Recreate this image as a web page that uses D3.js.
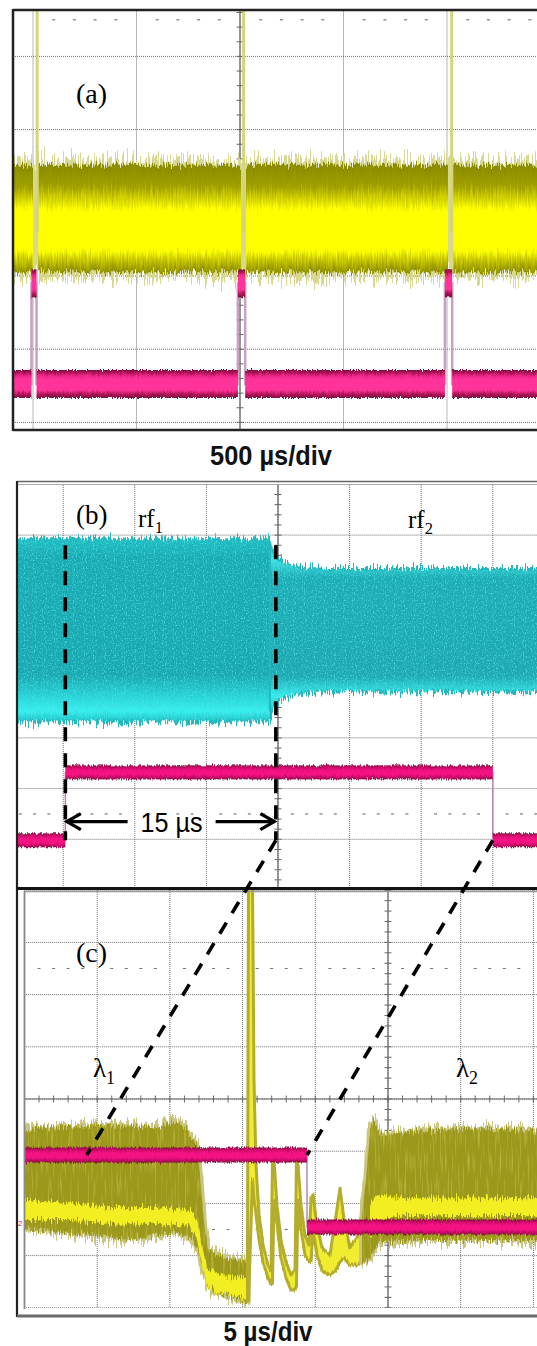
<!DOCTYPE html>
<html>
<head>
<meta charset="utf-8">
<script src="https://cdn.jsdelivr.net/npm/d3@7"></script>
<style>
  body { margin: 0; background: #fff; }
  svg { display: block; }
</style>
</head>
<body>
<div id="chart"></div>
<script>
// all times and levels are in screen divisions (x: 0..10, y: -4..4)

// (a) 500 µs/div
const aYellowSegs = [[2.8, 3.0], [3.05, 5.01], [5.058, 7.01], [7.06, 8.0]];
const aYellowBand = [1.52, 0.05];          // upper, lower
const aYellowSpikes = [3.04, 5.035, 7.045];
const aSpikeSpan = [3.8, 0.6];
const aMagenta = [[2.8, -1.475], [2.985, -0.1], [3.034, -1.475], [4.98, -0.1], [5.05, -1.475],
                  [6.98, -0.1], [7.05, -1.475], [8.0, -1.475]];

// (b) 5 µs/div, rf1 -> rf2
const bCyanL = [[1.35, 2.90, -0.65], [4.874, 2.90, -0.65], [4.90, 2.74, -0.49]];
const bCyanR = [[4.90, 2.74, -0.49], [4.944, 2.54, -0.30], [5.028, 2.47, -0.22], [5.168, 2.39, -0.14],
                [5.377, 2.33, -0.08], [5.726, 2.31, -0.06], [8.62, 2.31, -0.06]];
const bMagenta = [[1.35, -3.02], [2.03, -1.68], [8.0, -3.02], [8.62, -3.02]];
const bMarks = [2.03, 4.97];               // dashed markers
const bMarkSpan = [2.8, -3.02];
const bArrowLevel = -2.65;

// (c) 5 µs/div, lambda1 -> lambda2
const cShift = 4.114;                      // (b) time -> (c) time
const cYellow1 = [[0.0, -0.56, -2.47], [0.488, -0.54, -2.55], [1.039, -0.50, -2.62], [1.451, -0.52, -2.70],
                  [1.864, -0.54, -2.61], [2.070, -0.42, -2.55], [2.208, -0.56, -2.62], [2.318, -0.79, -2.70],
                  [2.373, -0.88, -2.89], [2.414, -1.46, -3.05], [2.469, -2.41, -3.31], [2.524, -2.85, -3.56],
                  [2.593, -2.97, -3.70], [2.827, -3.05, -3.79], [3.07, -3.12, -3.89]];
const cCore1 = [[0.0, -1.93, -2.32], [0.626, -1.99, -2.32], [1.176, -2.07, -2.39], [1.795, -2.07, -2.39],
                [2.276, -2.13, -2.43], [2.373, -2.32, -2.70], [2.442, -2.80, -3.18], [2.510, -3.24, -3.56],
                [2.689, -3.37, -3.70], [3.061, -3.43, -3.85]];
const cYellow2 = [[3.067, -3.12, -3.89], [3.081, 4.2, -3.89], [3.136, 4.2, -1.55], [3.157, 0.36, -1.94],
                  [3.184, -1.26, -2.22], [3.226, -2.22, -2.70], [3.281, -2.80, -3.12], [3.349, -3.18, -3.43],
                  [3.391, -3.31, -3.54], [3.411, -1.17, -3.54], [3.432, -1.17, -1.94], [3.473, -2.03, -2.41],
                  [3.528, -2.70, -3.05], [3.597, -3.12, -3.43], [3.666, -3.37, -3.66], [3.721, -3.27, -3.66],
                  [3.741, -1.17, -3.56], [3.762, -1.26, -1.94], [3.803, -2.03, -2.51], [3.858, -2.61, -2.99],
                  [3.913, -2.80, -3.12], [3.941, -1.90, -3.12], [3.968, -1.84, -2.51], [4.023, -2.41, -2.99],
                  [4.092, -2.85, -3.28], [4.202, -2.99, -3.37], [4.285, -2.22, -3.28], [4.340, -1.71, -3.12],
                  [4.395, -2.31, -3.05], [4.477, -2.85, -3.18], [4.587, -2.61, -3.18], [4.642, -2.22, -3.12]];
const cYellow3 = [[4.642, -2.22, -3.12], [4.697, -1.55, -3.12], [4.752, -0.61, -3.05], [4.807, -0.40, -2.89],
                  [4.890, -0.69, -2.74], [5.440, -0.61, -2.70], [6.265, -0.56, -2.70], [7.05, -0.61, -2.70]];
const cCore3 = [[4.752, -2.03, -2.70], [4.835, -1.84, -2.36], [5.165, -1.90, -2.24], [7.05, -1.90, -2.24]];
const cMagenta = [[0.0, -1.073], [3.886, -2.452], [7.05, -2.452]];

const serif = "'Liberation Serif', 'Times New Roman', serif";
const sans = "'Liberation Sans', Arial, sans-serif";

const svg = d3.select("#chart").append("svg").attr("width", 537).attr("height", 1346);
const defs = svg.append("defs");

// noisy edges: vertical-only displacement from turbulence, optional speckle on top
function jag(id, scale, fx, fy, seed, speck) {
  const f = defs.append("filter").attr("id", id)
    .attr("x", "-2%").attr("y", "-40%").attr("width", "104%").attr("height", "180%")
    .attr("color-interpolation-filters", "sRGB");
  f.append("feTurbulence").attr("type", "fractalNoise").attr("baseFrequency", fx + " " + fy)
    .attr("numOctaves", 2).attr("seed", seed).attr("result", "n");
  f.append("feColorMatrix").attr("in", "n").attr("type", "matrix")
    .attr("values", "0 0 0 0 0.5  0 1 0 0 0  0 0 0 0 0  0 0 0 0 1").attr("result", "m");
  f.append("feDisplacementMap").attr("in", "SourceGraphic").attr("in2", "m")
    .attr("scale", scale).attr("xChannelSelector", "R").attr("yChannelSelector", "G").attr("result", "d");
  if (speck) {
    f.append("feTurbulence").attr("type", "fractalNoise").attr("baseFrequency", speck.freq)
      .attr("numOctaves", 1).attr("seed", seed + 20).attr("result", "n2");
    f.append("feColorMatrix").attr("in", "n2").attr("type", "matrix")
      .attr("values", `0 0 0 0 ${speck.rgb[0]}  0 0 0 0 ${speck.rgb[1]}  0 0 0 0 ${speck.rgb[2]}  ${speck.k} 0 0 0 ${speck.b}`)
      .attr("result", "c");
    f.append("feComposite").attr("in", "c").attr("in2", "d").attr("operator", "in").attr("result", "s");
    const mg = f.append("feMerge");
    mg.append("feMergeNode").attr("in", "d");
    mg.append("feMergeNode").attr("in", "s");
  }
}
jag("jagBig", 50, 0.7, 0.02, 3);
jag("jagMid", 24, 0.6, 0.03, 5);
jag("jagSmall", 16, 0.8, 0.05, 8);
jag("jagTiny", 5, 0.8, 0.1, 11);
jag("jagCyan", 8, 0.8, 0.05, 13, { freq: "0.9 0.6", rgb: [0.3, 0.88, 0.9], k: 3.2, b: -1.6 });
jag("jagOlive", 16, 0.8, 0.05, 17, { freq: "0.6 0.04", rgb: [0.78, 0.76, 0.3], k: 2.6, b: -1.35 });

function vgrad(id, stops) {
  const g = defs.append("linearGradient").attr("id", id)
    .attr("x1", 0).attr("y1", 0).attr("x2", 0).attr("y2", 1);
  stops.forEach(s => g.append("stop").attr("offset", s[0]).attr("stop-color", s[1]));
}
vgrad("gYellowA", [[0, "#8a8a00"], [0.2, "#a0a000"], [0.33, "#d8d800"], [0.42, "#ffff00"],
                   [0.8, "#ffff00"], [0.9, "#bebe00"], [1, "#8d8d00"]]);
vgrad("gMagA", [[0, "#7e0c40"], [0.1, "#b01458"], [0.22, "#f0288a"], [0.35, "#ff3399"],
                [0.72, "#ff3399"], [0.87, "#b01458"], [1, "#7e0c40"]]);
vgrad("gMag", [[0, "#860a42"], [0.2, "#d80c70"], [0.4, "#f51283"], [0.65, "#f51283"], [0.82, "#d00c6c"], [1, "#860a42"]]);
vgrad("gCyanL", [[0, "#20bcc2"], [0.1, "#1aaab2"], [0.75, "#1aa8b0"], [0.88, "#2ad8dc"],
                 [0.95, "#38f0f0"], [1, "#22c4c8"]]);
vgrad("gCyanR", [[0, "#2cd0d4"], [0.07, "#40e4e4"], [0.18, "#1eacb4"], [0.78, "#1ea8b0"],
                 [0.9, "#38ecec"], [1, "#22c0c4"]]);

function panel(name, clip, xr, yr) {
  const x = d3.scaleLinear().domain([0, 10]).range(xr);
  const y = d3.scaleLinear().domain([-4, 4]).range(yr);
  defs.append("clipPath").attr("id", "clip-" + name).append("rect")
    .attr("x", clip[0]).attr("y", clip[1])
    .attr("width", clip[2] - clip[0]).attr("height", clip[3] - clip[1]);
  const g = svg.append("g").attr("clip-path", "url(#clip-" + name + ")");
  return { x, y, g };
}

function grid(p, axisT, axisV, dotRows) {
  const gg = p.g.append("g");
  d3.range(0, 11).forEach(t => gg.append("line")
    .attr("x1", p.x(t)).attr("x2", p.x(t)).attr("y1", p.y(4.5)).attr("y2", p.y(-4.5))
    .attr("stroke", "#6e6e6e").attr("stroke-width", 1).attr("stroke-dasharray", "1,1"));
  d3.range(-4, 5).forEach(v => gg.append("line")
    .attr("x1", p.x(-1)).attr("x2", p.x(11)).attr("y1", p.y(v)).attr("y2", p.y(v))
    .attr("stroke", "#6e6e6e").attr("stroke-width", 1).attr("stroke-dasharray", "1,1"));
  if (axisT != null) {
    gg.append("line").attr("x1", p.x(axisT)).attr("x2", p.x(axisT))
      .attr("y1", p.y(4.5)).attr("y2", p.y(-4.5)).attr("stroke", "#666").attr("stroke-width", 1.2);
    d3.range(-4.4, 4.5, 0.2).forEach(v => gg.append("line")
      .attr("x1", p.x(axisT) - 3.5).attr("x2", p.x(axisT) + 3.5).attr("y1", p.y(v)).attr("y2", p.y(v))
      .attr("stroke", "#666").attr("stroke-width", 1));
  }
  if (axisV != null) {
    gg.append("line").attr("x1", p.x(-1)).attr("x2", p.x(11))
      .attr("y1", p.y(axisV)).attr("y2", p.y(axisV)).attr("stroke", "#666").attr("stroke-width", 1.2);
    d3.range(0, 10.1, 0.2).forEach(t => gg.append("line")
      .attr("x1", p.x(t)).attr("x2", p.x(t)).attr("y1", p.y(axisV) - 3.5).attr("y2", p.y(axisV) + 3.5)
      .attr("stroke", "#666").attr("stroke-width", 1));
  }
  dotRows.forEach(v => d3.range(0, 10.1, 0.2).forEach(t => {
    if (Math.abs(t - Math.round(t)) < 0.01) return;
    gg.append("line").attr("x1", p.x(t) - 1.5).attr("x2", p.x(t) + 1.5).attr("y1", p.y(v)).attr("y2", p.y(v))
      .attr("stroke", "#777").attr("stroke-width", 1.2);
  }));
}

const area = p => d3.area().x(d => p.x(d[0])).y0(d => p.y(d[2])).y1(d => p.y(d[1]));

function trace(p, rows, o) {
  const a = area(p);
  if (o.fringe) p.g.append("path").attr("d", a(rows)).attr("fill", o.fringe).attr("stroke", o.fringe)
    .attr("stroke-width", o.fringeW).attr("stroke-linejoin", "round")
    .attr("filter", "url(#" + (o.fringeF || "jagBig") + ")");
  p.g.append("path").attr("d", a(rows)).attr("fill", o.fill)
    .attr("stroke", o.stroke || "none").attr("stroke-width", o.strokeW || 0).attr("stroke-linejoin", "round")
    .attr("filter", "url(#" + (o.filter || "jagSmall") + ")");
}

function magenta(p, steps, h, grad, edge, edgeW) {
  p.g.append("path").attr("d", d3.line().curve(d3.curveStepAfter).x(d => p.x(d[0])).y(d => p.y(d[1]))(steps))
    .attr("fill", "none").attr("stroke", edge).attr("stroke-width", edgeW);
  const segs = steps.slice(0, -1).map((d, i) => [d[0], steps[i + 1][0], d[1]]).filter(s => s[1] > s[0]);
  p.g.selectAll(null).data(segs).join("rect")
    .attr("x", s => p.x(s[0])).attr("width", s => p.x(s[1]) - p.x(s[0]))
    .attr("y", s => p.y(s[2]) - h / 2).attr("height", h)
    .attr("fill", "url(#" + grad + ")").attr("filter", "url(#jagTiny)");
}

// ---------- panel (a) ----------
const pa = panel("a", [13, 10, 537, 430], [240 - 517.5, 240 + 517.5], [276 + 292.8, 276 - 292.8]);
grid(pa, 5, null, [3.5]);
aYellowSegs.forEach(s => trace(pa, s.map(t => [t, aYellowBand[0], aYellowBand[1]]),
  { fill: "url(#gYellowA)", fringe: "#d8d890", fringeW: 9, filter: "jagSmall" }));
pa.g.selectAll(null).data(aYellowSpikes).join("line")
  .attr("x1", d => pa.x(d)).attr("x2", d => pa.x(d))
  .attr("y1", pa.y(aSpikeSpan[0])).attr("y2", pa.y(aSpikeSpan[1]))
  .attr("stroke", "#d4d47a").attr("stroke-width", 3);
magenta(pa, aMagenta, 28, "gMagA", "#c9a0c0", 2.5);

// ---------- panel (b) ----------
const pb = panel("b", [17, 484, 537, 889], [278 - 358, 278 + 358], [890, 484.4]);
grid(pb, 5, 0, [-2.5]);
trace(pb, bCyanL, { fill: "url(#gCyanL)", fringe: "#22b8be", fringeW: 4, fringeF: "jagMid", filter: "jagCyan" });
trace(pb, bCyanR, { fill: "url(#gCyanR)", fringe: "#22b8be", fringeW: 4, fringeF: "jagMid", filter: "jagCyan" });
magenta(pb, bMagenta, 14, "gMag", "#b888b0", 1.5);

// ---------- panel (c) ----------
const pc = panel("c", [24.5, 890, 537, 1308], [24.5, 751.5], [1307.8, 890.2]);
grid(pc, 5, 0, [2.5, -2.5]);
trace(pc, cYellow1, { fill: "#9c981c", fringe: "#cac680", fringeW: 6, fringeF: "jagMid", filter: "jagOlive" });
trace(pc, cCore1, { fill: "#f2ee22" });
trace(pc, cYellow2, { fill: "#f0ec30", stroke: "#b4ac2c", strokeW: 3, filter: "jagTiny" });
trace(pc, cYellow3, { fill: "#9c981c", fringe: "#cac680", fringeW: 6, fringeF: "jagMid", filter: "jagOlive" });
trace(pc, cCore3, { fill: "#f2ee22" });
magenta(pc, cMagenta, 15, "gMag", "#b888b0", 1.5);

// ---------- frames ----------
const fr = svg.append("g").attr("fill", "none");
fr.append("line").attr("x1", 13).attr("x2", 537).attr("y1", 10).attr("y2", 10).attr("stroke", "#222").attr("stroke-width", 2.5);
fr.append("line").attr("x1", 13).attr("x2", 537).attr("y1", 430).attr("y2", 430).attr("stroke", "#222").attr("stroke-width", 2.5);
fr.append("line").attr("x1", 13).attr("x2", 13).attr("y1", 9).attr("y2", 431).attr("stroke", "#222").attr("stroke-width", 2.5);
fr.append("line").attr("x1", 17).attr("x2", 537).attr("y1", 481.5).attr("y2", 481.5).attr("stroke", "#666").attr("stroke-width", 1.5);
fr.append("line").attr("x1", 17).attr("x2", 537).attr("y1", 484.5).attr("y2", 484.5).attr("stroke", "#aaa").attr("stroke-width", 1.2);
fr.append("line").attr("x1", 17).attr("x2", 17).attr("y1", 481).attr("y2", 1317).attr("stroke", "#222").attr("stroke-width", 2.2);
fr.append("line").attr("x1", 17).attr("x2", 537).attr("y1", 888.5).attr("y2", 888.5).attr("stroke", "#111").attr("stroke-width", 3);
fr.append("line").attr("x1", 24.5).attr("x2", 537).attr("y1", 891.5).attr("y2", 891.5).attr("stroke", "#999").attr("stroke-width", 1.5);
fr.append("line").attr("x1", 24.5).attr("x2", 24.5).attr("y1", 891).attr("y2", 1309).attr("stroke", "#888").attr("stroke-width", 1.8);
fr.append("line").attr("x1", 17).attr("x2", 537).attr("y1", 1316).attr("y2", 1316).attr("stroke", "#6a6a6a").attr("stroke-width", 3);
svg.append("text").attr("x", 18).attr("y", 1226).attr("font-family", sans).attr("font-size", 8)
  .attr("fill", "#e0107a").text("2");

// ---------- annotations ----------
const ann = svg.append("g").attr("stroke", "#000").attr("stroke-width", 3.6).attr("fill", "none");
bMarks.forEach(t => ann.append("line").attr("x1", pb.x(t)).attr("x2", pb.x(t))
  .attr("y1", pb.y(bMarkSpan[0])).attr("y2", pb.y(bMarkSpan[1])).attr("stroke-dasharray", "14,12"));
const diag = [[bMarks[1], cMagenta[0][1]], [bMagenta[2][0], cMagenta[0][1]]];
diag.forEach(d => ann.append("line")
  .attr("x1", pb.x(d[0])).attr("y1", pb.y(bMarkSpan[1]))
  .attr("x2", pc.x(d[0] - cShift)).attr("y2", pc.y(d[1])).attr("stroke-dasharray", "13,11"));

// 15 µs double arrow
const ax0 = pb.x(bMarks[0]) + 1.5, ax1 = pb.x(bMarks[1]) - 1.5, ay = pb.y(bArrowLevel);
const amid = (ax0 + ax1) / 2 + 1;
const arr = svg.append("g").attr("stroke", "#000").attr("stroke-width", 3.2).attr("fill", "none");
arr.append("line").attr("x1", ax0).attr("x2", amid - 44).attr("y1", ay).attr("y2", ay);
arr.append("line").attr("x1", amid + 44).attr("x2", ax1).attr("y1", ay).attr("y2", ay);
arr.append("path").attr("d", `M${ax0 + 14},${ay - 8}L${ax0},${ay}L${ax0 + 14},${ay + 8}`);
arr.append("path").attr("d", `M${ax1 - 14},${ay - 8}L${ax1},${ay}L${ax1 - 14},${ay + 8}`);
svg.append("text").attr("x", amid).attr("y", ay + 10).attr("text-anchor", "middle")
  .attr("font-family", sans).attr("font-size", 28).attr("textLength", 62).attr("lengthAdjust", "spacingAndGlyphs")
  .text("15 µs");

// ---------- labels ----------
function lab(x, y, main, sub, size) {
  const t = svg.append("text").attr("x", x).attr("y", y).attr("font-family", serif)
    .attr("font-size", size).attr("fill", "#000").text(main);
  if (sub) t.append("tspan").attr("font-size", size * 0.66).attr("dy", size * 0.25).text(sub);
}
lab(76, 103, "(a)", null, 28);
lab(76, 524, "(b)", null, 27);
lab(138, 527, "rf", "1", 25);
lab(408, 528, "rf", "2", 25);
lab(76, 962, "(c)", null, 28);
lab(93, 1077, "λ", "1", 27);
lab(456, 1077, "λ", "2", 27);

svg.append("text").attr("x", 271).attr("y", 465).attr("text-anchor", "middle")
  .attr("font-family", sans).attr("font-weight", "bold").attr("font-size", 28)
  .attr("textLength", 122).attr("lengthAdjust", "spacingAndGlyphs").attr("fill", "#111").text("500 µs/div");
svg.append("text").attr("x", 268).attr("y", 1341).attr("text-anchor", "middle")
  .attr("font-family", sans).attr("font-weight", "bold").attr("font-size", 28)
  .attr("textLength", 89).attr("lengthAdjust", "spacingAndGlyphs").attr("fill", "#111").text("5 µs/div");
</script>
</body>
</html>
